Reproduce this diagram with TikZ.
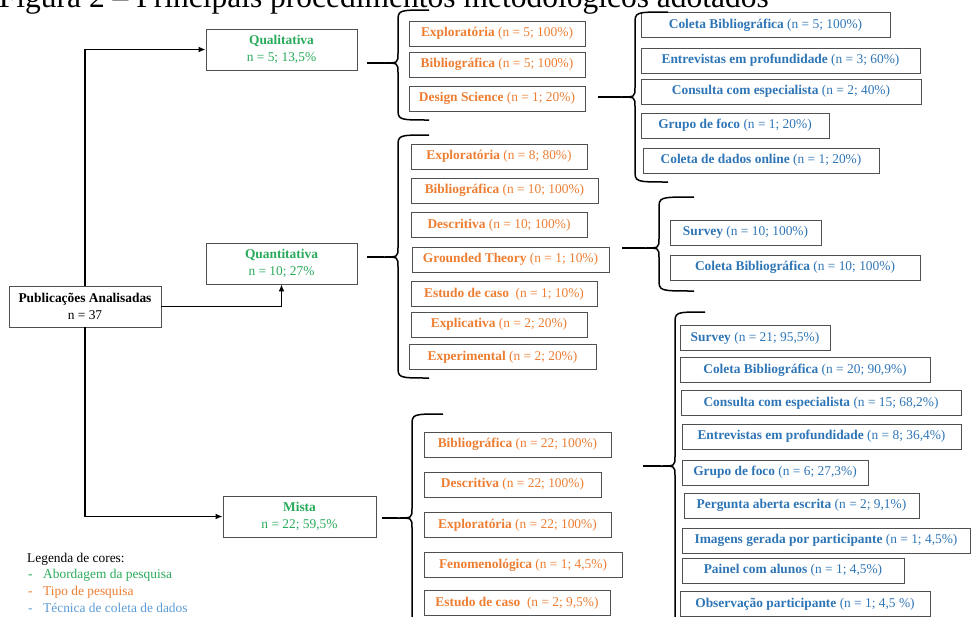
\documentclass[tikz,border=0pt]{standalone}
\usepackage{fontspec}
\setmainfont{Liberation Serif}
\usepackage{tikz}
\usetikzlibrary{arrows.meta}

\definecolor{abord}{RGB}{40,170,90}
\definecolor{tipo}{RGB}{237,125,49}
\definecolor{tecn}{RGB}{46,117,182}
\definecolor{tecnleg}{RGB}{91,155,213}
\definecolor{borda}{RGB}{80,80,80}

% chave: nome, x da haste, topo, ponta, base, x das pontas
\newcommand{\chave}[6]{%
  \draw[line width=1.5pt] (#6,#3) .. controls (#2,#3) .. (#2,#3+12) -- (#2,#4-10)
    .. controls (#2,#4) .. (#2-14,#4) .. controls (#2,#4) .. (#2,#4+10)
    -- (#2,#5-12) .. controls (#2,#5) .. (#6,#5);
  \coordinate (#1) at (#2-14,#4);}

\begin{document}
\begin{tikzpicture}[x=1pt,y=-1pt,
    caixa/.style={draw=borda,line width=0.9pt,inner sep=0pt,minimum height=25pt,
      font=\fontsize{13.4}{17}\selectfont},
    tipobox/.style={caixa,text=tipo},
    tecbox/.style={caixa,text=tecn},
    abbox/.style={caixa,text=abord,minimum height=41pt,align=center},
    seta/.style={line width=1.6pt,-{Latex[length=7pt,width=6pt]}},
    liga/.style={line width=1.6pt},
    legenda/.style={anchor=base west,inner sep=0pt,font=\fontsize{13.4}{17}\selectfont}]
  \useasboundingbox (0,0) rectangle (972,616);
  \clip (0,0) rectangle (972,616);

  \node[anchor=base east,inner sep=0pt,font=\fontsize{31.5}{34}\selectfont] (titulo) at (769,7)
    {Figura 2 – Principais procedimentos metodológicos adotados};

  % abordagem
  \node[caixa,minimum width=152pt,minimum height=41pt,align=center] (pub) at (85,306.5)
    {\textbf{Publicações Analisadas}\\n = 37};
  \node[abbox,minimum width=151pt] (quali) at (281.5,49.5) {\textbf{Qualitativa}\\n = 5; 13,5\%};
  \node[abbox,minimum width=151pt] (quanti) at (281.5,263.5) {\textbf{Quantitativa}\\n = 10; 27\%};
  \node[abbox,minimum width=153pt] (mista) at (299.5,516.5) {\textbf{Mista}\\n = 22; 59,5\%};

  \draw[seta] (pub) |- (quali);
  \draw[seta] (pub) |- (mista);
  \draw[seta] (pub.east) -| (quanti);

  % tipo de pesquisa
  \node[tipobox,minimum width=176pt] (q1) at (497,33.5) {\textbf{Exploratória} (n = 5; 100\%)};
  \node[tipobox,minimum width=176pt] (q2) at (497,64.5) {\textbf{Bibliográfica} (n = 5; 100\%)};
  \node[tipobox,minimum width=176pt] (q3) at (497,98.5) {\textbf{Design Science} (n = 1; 20\%)};

  \node[tipobox,minimum width=176pt] (t1) at (499,156.5) {\textbf{Exploratória} (n = 8; 80\%)};
  \node[tipobox,minimum width=187pt] (t2) at (504.5,190.5) {\textbf{Bibliográfica} (n = 10; 100\%)};
  \node[tipobox,minimum width=176pt] (t3) at (499,225) {\textbf{Descritiva} (n = 10; 100\%)};
  \node[tipobox,minimum width=197pt] (t4) at (510.5,259.5) {\textbf{Grounded Theory} (n = 1; 10\%)};
  \node[tipobox,minimum width=186pt] (t5) at (504,294) {\textbf{Estudo de caso}~ (n = 1; 10\%)};
  \node[tipobox,minimum width=176pt] (t6) at (499,324.5) {\textbf{Explicativa} (n = 2; 20\%)};
  \node[tipobox,minimum width=187pt] (t7) at (502.5,357) {\textbf{Experimental} (n = 2; 20\%)};

  \node[tipobox,minimum width=187pt] (m1) at (517.5,444.5) {\textbf{Bibliográfica} (n = 22; 100\%)};
  \node[tipobox,minimum width=177pt] (m2) at (512.5,484.5) {\textbf{Descritiva} (n = 22; 100\%)};
  \node[tipobox,minimum width=187pt] (m3) at (517.5,525) {\textbf{Exploratória} (n = 22; 100\%)};
  \node[tipobox,minimum width=198pt] (m4) at (523,565) {\textbf{Fenomenológica} (n = 1; 4,5\%)};
  \node[tipobox,minimum width=186pt] (m5) at (517,603) {\textbf{Estudo de caso}~ (n = 2; 9,5\%)};

  % tecnica de coleta
  \node[tecbox,minimum width=249pt] (d1) at (765.5,25) {\textbf{Coleta Bibliográfica} (n = 5; 100\%)};
  \node[tecbox,minimum width=279pt] (d2) at (780.5,60.5) {\textbf{Entrevistas em profundidade} (n = 3; 60\%)};
  \node[tecbox,minimum width=280pt] (d3) at (781,91.5) {\textbf{Consulta com especialista} (n = 2; 40\%)};
  \node[tecbox,minimum width=188pt] (d4) at (735,125.5) {\textbf{Grupo de foco} (n = 1; 20\%)};
  \node[tecbox,minimum width=236pt] (d5) at (761,160.5) {\textbf{Coleta de dados online} (n = 1; 20\%)};

  \node[tecbox,minimum width=151pt] (g1) at (745.5,232.5) {\textbf{Survey} (n = 10; 100\%)};
  \node[tecbox,minimum width=250pt] (g2) at (795,267.5) {\textbf{Coleta Bibliográfica} (n = 10; 100\%)};

  \node[tecbox,minimum width=150pt] (x1) at (755,338) {\textbf{Survey} (n = 21; 95,5\%)};
  \node[tecbox,minimum width=250pt] (x2) at (805,370) {\textbf{Coleta Bibliográfica} (n = 20; 90,9\%)};
  \node[tecbox,minimum width=280pt] (x3) at (821,403) {\textbf{Consulta com especialista} (n = 15; 68,2\%)};
  \node[tecbox,minimum width=279pt] (x4) at (821.5,436.5) {\textbf{Entrevistas em profundidade} (n = 8; 36,4\%)};
  \node[tecbox,minimum width=186pt] (x5) at (775,472.5) {\textbf{Grupo de foco} (n = 6; 27,3\%)};
  \node[tecbox,minimum width=235pt] (x6) at (801.5,505.5) {\textbf{Pergunta aberta escrita} (n = 2; 9,1\%)};
  \node[tecbox,minimum width=288pt] (x7) at (826,540.5) {\textbf{Imagens gerada por participante} (n = 1; 4,5\%)};
  \node[tecbox,minimum width=222pt] (x8) at (793,570.5) {\textbf{Painel com alunos} (n = 1; 4,5\%)};
  \node[tecbox,minimum width=250pt] (x9) at (805,604) {\textbf{Observação participante} (n = 1; 4,5 \%)};

  % chaves
  \chave{b1}{398}{10}{63}{120}{429}
  \chave{b2}{398}{135}{257}{378}{429}
  \chave{b3}{412}{414}{518}{700}{443}
  \chave{b4}{635}{12}{97}{182}{668}
  \chave{b5}{659}{197}{248}{291}{694}
  \chave{b6}{675}{312}{466}{700}{705}

  \draw[liga,shorten <=10pt] (quali.east |- b1) -- (b1);
  \draw[liga,shorten <=10pt] (quanti.east |- b2) -- (b2);
  \draw[liga,shorten <=6pt] (mista.east |- b3) -- (b3);
  \draw[liga,shorten <=13pt] (q3.east |- b4) -- (b4);
  \draw[liga,shorten <=13pt] (t4.east |- b5) -- (b5);
  \coordinate (c6) at (643,466);
  \draw[liga] (c6) -- (b6);

  % legenda
  \node[legenda] (leg) at (27,562) {Legenda de cores:};
  \node[legenda,text=abord] (leg1) at (28,578) {\makebox[15pt][l]{-}Abordagem da pesquisa};
  \node[legenda,text=tipo] (leg2) at (28,595) {\makebox[15pt][l]{-}Tipo de pesquisa};
  \node[legenda,text=tecnleg] (leg3) at (28,612) {\makebox[15pt][l]{-}Técnica de coleta de dados};
\end{tikzpicture}
\end{document}
